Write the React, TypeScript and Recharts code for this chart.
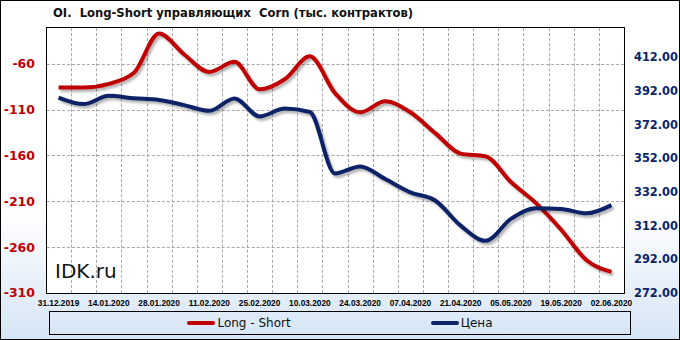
import { ComposedChart, Line, XAxis, YAxis } from "recharts";

const DATES = [
  "31.12.2019", "07.01.2020", "14.01.2020", "21.01.2020", "28.01.2020", "04.02.2020",
  "11.02.2020", "18.02.2020", "25.02.2020", "03.03.2020", "10.03.2020", "17.03.2020",
  "24.03.2020", "31.03.2020", "07.04.2020", "14.04.2020", "21.04.2020", "28.04.2020",
  "05.05.2020", "12.05.2020", "19.05.2020", "26.05.2020", "02.06.2020",
];

const LONG_SHORT = [
  -86, -86, -82, -70, -27, -50, -69, -58, -88, -77, -52, -92,
  -113, -101, -113, -136, -158, -161, -189, -212, -241, -274, -287,
];

const PRICE = [
  388.1, 384.2, 389.1, 387.7, 386.7, 383.6, 380.2, 387.6, 376.9, 381.6, 379.5, 343,
  347.2, 339.7, 331.8, 326.8, 312, 303, 316, 322.3, 321.9, 319.3, 324.2,
];

const LEFT_TICKS = [-310, -260, -210, -160, -110, -60];
const LEFT_DOMAIN = [-310, -20];
const RIGHT_TICKS = [272, 292, 312, 332, 352, 372, 392, 412];
const RIGHT_DOMAIN = [272, 430];

const SERIES = [
  { key: "ls", name: "Long - Short", color: "#c00000", axis: "left" },
  { key: "price", name: "Цена", color: "#0b2466", axis: "right" },
];

const FONT = "'DejaVu Sans', Verdana, sans-serif";

// chart frame
const W = 680;
const H = 340;
const MARGIN = { top: 27, right: 0, bottom: 30, left: 0 };
const LEFT_W = 46;
const RIGHT_W = 56;
const X_H = 17;

const data = DATES.map((date, i) => ({ idx: i, date, ls: LONG_SHORT[i], price: PRICE[i] }));
const X_DOMAIN = [-0.5, DATES.length - 0.5];
const LABEL_TICKS = DATES.map((_, i) => i).filter((i) => i % 2 === 0);

const GRID_BORDER = "1px dashed #a8a8a8";

export default function App() {
  const plotLeft = MARGIN.left + LEFT_W;
  const plotTop = MARGIN.top;
  const plotW = W - plotLeft - MARGIN.right - RIGHT_W;
  const plotH = H - plotTop - MARGIN.bottom - X_H;

  // dashed grid: week boundaries and left-axis ticks
  const gridX = DATES.slice(1).map((_, i) => plotLeft + ((i + 1) * plotW) / DATES.length);
  const gridY = LEFT_TICKS.slice(1).map(
    (t) => plotTop + ((LEFT_DOMAIN[1] - t) / (LEFT_DOMAIN[1] - LEFT_DOMAIN[0])) * plotH,
  );

  return (
    <div
      style={{
        position: "fixed",
        left: 0,
        top: 0,
        width: W,
        height: H,
        background: "linear-gradient(to bottom, #ffffff 0%, #ffffff 62%, #d5e5f6 100%)",
        fontFamily: FONT,
        overflow: "hidden",
      }}
    >
      <div
        style={{
          position: "absolute",
          left: 53,
          top: 6,
          fontSize: 11.6,
          fontWeight: "bold",
          color: "#111",
          whiteSpace: "pre",
        }}
      >
        {"OI.  Long-Short управляющих  Corn (тыс. контрактов)"}
      </div>

      {/* plot background + frame */}
      <div
        style={{
          position: "absolute",
          left: plotLeft,
          top: plotTop,
          width: plotW + 1,
          height: plotH + 1,
          boxSizing: "border-box",
          background: "#fff",
          border: "1px solid #000",
        }}
      />
      {gridX.map((x) => (
        <div
          key={`gx${x}`}
          style={{
            position: "absolute",
            left: Math.round(x),
            top: plotTop + 1,
            width: 0,
            height: plotH - 1,
            borderLeft: GRID_BORDER,
          }}
        />
      ))}
      {gridY.map((y) => (
        <div
          key={`gy${y}`}
          style={{
            position: "absolute",
            left: plotLeft + 1,
            top: Math.round(y),
            width: plotW - 1,
            height: 0,
            borderTop: GRID_BORDER,
          }}
        />
      ))}

      <ComposedChart
        width={W}
        height={H}
        data={data}
        margin={MARGIN}
        style={{ position: "absolute", left: 0, top: 0, background: "transparent" }}
      >
        <defs>
          <filter id="shadow" x="-5%" y="-5%" width="110%" height="115%">
            <feDropShadow dx="2" dy="2.5" stdDeviation="1.2" floodColor="#000" floodOpacity="0.3" />
          </filter>
        </defs>
        <XAxis
          type="number"
          dataKey="idx"
          domain={X_DOMAIN}
          ticks={LABEL_TICKS}
          interval={0}
          tickFormatter={(i: number) => DATES[i]}
          axisLine={false}
          tickLine={false}
          tickSize={0}
          tickMargin={7}
          height={X_H}
          tick={{ fill: "#000", fontSize: 8.3, fontWeight: "bold", fontFamily: "'Liberation Sans', Arial, sans-serif" }}
        />
        <YAxis
          yAxisId="left"
          domain={LEFT_DOMAIN}
          ticks={LEFT_TICKS}
          width={LEFT_W}
          axisLine={false}
          tickLine={false}
          tickSize={0}
          tickMargin={11}
          tick={{ fill: "#c00000", fontSize: 12.5, fontWeight: "bold", fontFamily: FONT }}
        />
        <YAxis
          yAxisId="right"
          orientation="right"
          domain={RIGHT_DOMAIN}
          ticks={RIGHT_TICKS}
          width={RIGHT_W}
          axisLine={false}
          tickLine={false}
          tickSize={0}
          tickMargin={10}
          tickFormatter={(v: number) => v.toFixed(2)}
          tick={{ fill: "#0b2466", fontSize: 11.4, fontWeight: "bold", fontFamily: FONT }}
        />
        {SERIES.map((s) => (
          <Line
            key={s.key}
            yAxisId={s.axis}
            dataKey={s.key}
            name={s.name}
            type="monotone"
            stroke={s.color}
            strokeWidth={4}
            dot={false}
            activeDot={false}
            filter="url(#shadow)"
            isAnimationActive={false}
          />
        ))}
      </ComposedChart>

      <div
        style={{
          position: "absolute",
          left: 55,
          top: 259,
          fontSize: 20,
          color: "#111",
        }}
      >
        IDK.ru
      </div>

      <div
        style={{
          position: "absolute",
          left: 49,
          top: 311,
          width: 582,
          height: 24,
          boxSizing: "border-box",
          border: "1px solid #000",
          display: "flex",
          alignItems: "center",
          justifyContent: "center",
          gap: 140,
          fontSize: 12,
          color: "#111",
        }}
      >
        {SERIES.map((s) => (
          <div key={s.key} style={{ display: "flex", alignItems: "center" }}>
            <span
              style={{ display: "inline-block", width: 28, height: 4, borderRadius: 2, background: s.color, marginRight: 2 }}
            />
            {s.name}
          </div>
        ))}
      </div>

      <div
        style={{
          position: "absolute",
          left: 0,
          top: 0,
          width: W,
          height: H,
          boxSizing: "border-box",
          border: "1px solid #000",
          pointerEvents: "none",
        }}
      />
    </div>
  );
}
